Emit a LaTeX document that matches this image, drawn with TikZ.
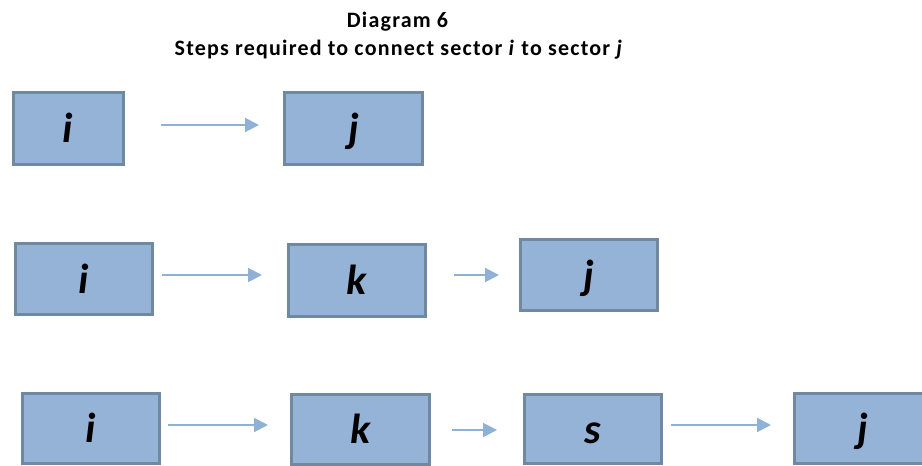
\documentclass[tikz,border=0pt]{standalone}
\usepackage{fontspec}
\setmainfont{Carlito}
\usetikzlibrary{arrows.meta}
\definecolor{boxfill}{HTML}{95B3D6}
\definecolor{boxedge}{HTML}{6E89A0}
\definecolor{arrowblue}{HTML}{8FB1D5}
\tikzset{
  sector/.style={draw=boxedge, fill=boxfill, line width=3pt, inner sep=0pt,
    minimum width=137pt, minimum height=71pt,
    font=\fontsize{42}{42}\selectfont\bfseries\itshape,
    text height=28pt, text depth=0pt},
  flow/.style={draw=arrowblue, line width=2pt,
    -{Triangle[length=14pt,width=14pt]}},
  heading/.style={font=\fontsize{22}{22}\selectfont\bfseries\addfontfeature{LetterSpace=5.5},
    anchor=base}
}
\begin{document}
\begin{tikzpicture}[x=1pt,y=-1pt]
  \useasboundingbox (0,0) rectangle (922,466);
  \clip (0,0) rectangle (922,466);

  % title
  \node[heading] (t1) at (397.5,27) {Diagram 6};
  \node[heading] (t2) at (399,55) {Steps required to connect sector \textit{i} to sector \textit{j}};

  % direct link
  \node[sector, minimum width=110pt, minimum height=72pt] (a1) at (68,128.5) {i};
  \node[sector, minimum width=138pt, minimum height=72pt] (b1) at (353.5,128.5) {j};
  \draw[flow] ([xshift=36pt,yshift=3.5pt]a1.east) -- ([xshift=-24pt,yshift=3.5pt]b1.west);

  % one intermediate sector
  \node[sector] (a2) at (84,279) {i};
  \node[sector, minimum height=72pt] (k2) at (357,280.5) {k};
  \node[sector] (b2) at (589,275) {j};
  \draw[flow] ([xshift=8pt,yshift=4pt]a2.east) -- ([xshift=-25pt,yshift=5.5pt]k2.west);
  \draw[flow] ([xshift=27pt,yshift=5.5pt]k2.east) -- ([xshift=-20pt]b2.west);

  % two intermediate sectors
  \node[sector, minimum height=70pt] (a3) at (91,428.5) {i};
  \node[sector, minimum width=138pt, minimum height=70pt] (k3) at (360.5,429) {k};
  \node[sector, minimum height=69pt] (s3) at (593,429) {s};
  \node[sector, minimum height=70pt] (b3) at (863,428.5) {j};
  \draw[flow] ([xshift=7pt,yshift=3.5pt]a3.east) -- ([xshift=-22pt,yshift=4pt]k3.west);
  \draw[flow] ([xshift=21pt,yshift=-1pt]k3.east) -- ([xshift=-26pt,yshift=-1pt]s3.west);
  \draw[flow] ([xshift=8pt,yshift=4pt]s3.east) -- ([xshift=-22pt,yshift=3.5pt]b3.west);
\end{tikzpicture}
\end{document}
